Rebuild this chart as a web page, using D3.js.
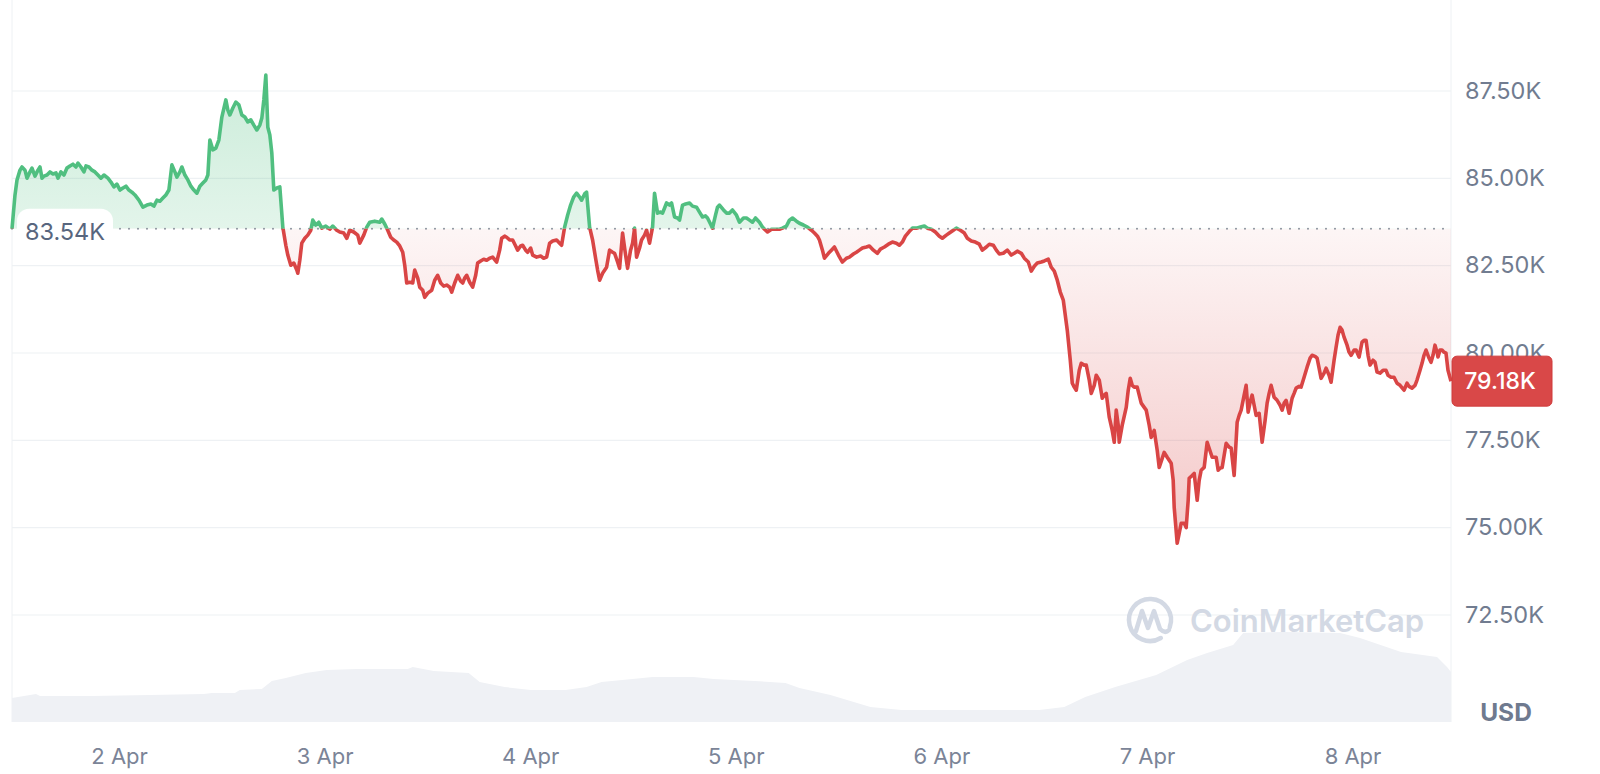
<!DOCTYPE html>
<html><head><meta charset="utf-8">
<script src="https://cdn.jsdelivr.net/npm/d3@7"></script>
<style>
html,body{margin:0;padding:0;background:#fff;}
svg{display:block;font-family:Inter,"Noto Sans",sans-serif;}
</style></head><body>
<svg id="chart" width="1600" height="774"></svg>
<script>
// ---------- data ----------
const startTime = new Date(2025, 3, 1, 11, 30);   // left edge of the 7-day window
const spanMinutes = 7 * 24 * 60;
const basePrice = 83.54;   // K USD, opening price (dotted line)
const lastPrice = 79.18;   // K USD, current price
const priceTicks = [72.5, 75, 77.5, 80, 82.5, 85, 87.5];
const currencyLabel = "USD";
const watermarkText = "CoinMarketCap";

// [minutes since start, price in K USD]
const pricePoints = [
[0,83.54],[21,84.51],[35,84.94],[56,85.22],[70,85.31],[91,85.22],[105,84.99],[126,85.17],[140,85.28],[161,85.05],[182,85.22],[196,85.31],[210,84.99],[224,85.05],[245,85.08],[266,85.17],[287,85.11],[308,85.14],[322,84.99],[343,85.17],[364,85.08],[385,85.28],[406,85.34],[427,85.39],[448,85.31],[462,85.42],[483,85.31],[504,85.17],[518,85.34],[539,85.31],[560,85.22],[581,85.17],[602,85.08],[623,84.99],[644,85.08],[672,84.99],[693,84.88],[714,84.74],[735,84.82],[756,84.65],[777,84.71],[798,84.76],[819,84.65],[840,84.59],[861,84.51],[889,84.36],[917,84.16],[945,84.22],[973,84.25],[994,84.19],[1015,84.36],[1036,84.33],[1057,84.42],[1078,84.51],[1099,84.65],[1120,85.37],[1141,85.17],[1155,85.02],[1176,85.17],[1190,85.31],[1211,85.08],[1232,84.94],[1253,84.76],[1274,84.65],[1295,84.56],[1316,84.76],[1337,84.85],[1358,84.94],[1372,85.08],[1386,86.08],[1407,85.80],[1428,85.85],[1449,86.08],[1470,86.74],[1498,87.23],[1512,86.94],[1526,86.80],[1547,87.00],[1568,87.17],[1589,87.09],[1610,86.80],[1631,86.74],[1652,86.60],[1673,86.66],[1694,86.51],[1715,86.37],[1736,86.51],[1750,86.71],[1764,87.23],[1778,87.94],[1792,86.45],[1806,86.23],[1820,85.71],[1834,84.65],[1855,84.71],[1876,84.74],[1897,83.59],[1918,83.07],[1932,82.79],[1953,82.50],[1974,82.56],[1995,82.36],[2002,82.27],[2016,82.64],[2030,83.13],[2051,83.27],[2072,83.36],[2093,83.50],[2107,83.79],[2128,83.65],[2149,83.73],[2170,83.56],[2198,83.62],[2226,83.53],[2247,83.62],[2275,83.50],[2296,83.45],[2324,83.42],[2345,83.27],[2366,83.50],[2394,83.45],[2422,83.36],
[2436,83.13],[2464,83.36],[2485,83.59],[2506,83.73],[2541,83.76],[2576,83.73],[2590,83.82],[2611,83.68],[2632,83.50],[2653,83.30],[2674,83.22],[2695,83.16],[2716,83.05],[2737,82.87],[2751,82.50],[2765,81.99],[2786,82.01],[2807,81.99],[2821,82.36],[2842,82.13],[2856,81.87],[2877,81.78],[2891,81.58],[2912,81.70],[2940,81.78],[2961,82.07],[2982,82.21],[3003,81.99],[3024,81.90],[3045,81.93],[3066,81.87],[3080,81.73],[3101,81.99],[3122,82.21],[3143,82.04],[3157,81.99],[3171,82.13],[3185,82.21],[3206,82.01],[3227,81.87],[3248,82.21],[3262,82.56],[3283,82.62],[3304,82.67],[3325,82.64],[3346,82.70],[3367,82.73],[3395,82.59],[3416,82.93],[3430,83.27],[3451,83.33],[3465,83.30],[3486,83.22],[3507,83.22],[3528,83.05],[3542,82.93],[3563,83.05],[3577,83.07],[3598,82.93],[3612,82.87],[3633,82.99],[3647,82.79],[3675,82.73],[3703,82.76],[3724,82.70],[3745,82.73],[3766,83.13],[3787,83.19],[3815,83.22],[3836,83.13],[3850,83.07],[3871,83.59],[3892,83.93],[3913,84.22],[3934,84.45],[3955,84.56],[3976,84.45],[3990,84.36],[4011,84.54],[4025,84.59],[4046,83.59],[4067,83.22],[4088,82.70],[4102,82.36],[4116,82.07],[4137,82.27],[4165,82.44],[4186,82.93],[4207,82.87],[4221,82.84],[4242,82.59],[4256,82.41],[4277,83.42],[4298,82.79],[4312,82.41],[4333,82.93],[4347,83.13],[4361,83.56],[4375,82.73],[4396,82.99],[4410,83.22],[4431,83.36],[4445,83.50],[4466,83.13],[4487,83.59],[4501,84.56],[4522,83.99],[4543,84.02],[4557,83.99],[4585,84.28],[4606,84.22],[4620,84.28],[4641,83.88],[4662,83.85],[4676,83.79],[4697,84.22],[4718,84.25],[4746,84.28],[4767,84.19],[4795,84.16],[4816,84.02],[4837,83.88],[4858,83.91],[4872,83.85],[4893,83.68],[4907,83.56],[4928,83.93],[4942,84.16],[4956,84.22],
[4984,84.08],[5005,83.99],[5026,83.99],[5047,84.08],[5075,83.93],[5096,83.73],[5124,83.85],[5145,83.85],[5166,83.79],[5187,83.73],[5208,83.85],[5236,83.73],[5257,83.59],[5271,83.53],[5292,83.45],[5320,83.53],[5348,83.53],[5376,83.53],[5397,83.56],[5425,83.62],[5446,83.79],[5467,83.85],[5495,83.76],[5516,83.70],[5544,83.65],[5572,83.59],[5600,83.50],[5621,83.42],[5642,83.33],[5656,83.22],[5677,82.93],[5691,82.70],[5719,82.84],[5740,82.93],[5761,83.02],[5789,82.79],[5817,82.59],[5845,82.70],[5866,82.73],[5894,82.82],[5915,82.87],[5936,82.93],[5957,82.99],[5985,83.02],[6006,83.05],[6034,82.93],[6062,82.84],[6083,82.96],[6111,83.02],[6139,83.10],[6167,83.16],[6195,83.13],[6216,83.07],[6237,83.16],[6258,83.33],[6286,83.47],[6307,83.56],[6335,83.56],[6363,83.59],[6391,83.62],[6412,83.56],[6440,83.53],[6468,83.45],[6496,83.33],[6517,83.27],[6545,83.36],[6566,83.42],[6594,83.50],[6615,83.56],[6643,83.50],[6671,83.42],[6692,83.27],[6720,83.19],[6748,83.16],[6776,83.10],[6797,82.93],[6825,83.02],[6846,83.10],[6874,83.07],[6895,82.93],[6916,82.82],[6944,82.84],[6972,82.93],[7000,82.79],[7021,82.84],[7042,82.90],[7070,82.84],[7091,82.70],[7119,82.59],[7140,82.33],[7161,82.47],[7182,82.56],[7210,82.59],[7231,82.62],[7259,82.67],[7280,82.44],[7301,82.33],[7322,82.07],[7343,81.73],[7364,81.50],[7392,80.64],
[7413,79.78],[7427,79.12],[7441,79.01],[7455,78.92],[7476,79.49],[7490,79.69],[7511,79.64],[7525,79.64],[7546,79.21],[7560,78.83],[7581,79.06],[7595,79.35],[7616,79.21],[7637,78.69],[7651,78.78],[7665,78.83],[7686,78.15],[7707,77.77],[7721,77.43],[7735,78.35],[7749,77.92],[7756,77.43],[7777,77.92],[7805,78.43],[7819,78.92],[7833,79.26],[7847,79.06],[7861,79.01],[7882,79.01],[7896,78.78],[7910,78.55],[7931,78.43],[7945,78.35],[7966,77.92],[7980,77.57],[8001,77.77],[8022,77.20],[8036,76.71],[8057,76.97],[8071,77.14],[8092,77.00],[8120,76.83],[8134,76.34],[8141,75.57],[8162,74.54],[8176,74.82],[8190,75.11],[8211,75.11],[8225,74.99],[8239,75.77],[8246,76.40],[8267,76.48],[8281,76.54],[8302,75.77],[8316,76.34],[8330,76.63],[8351,76.71],[8372,77.43],[8386,77.26],[8407,77.00],[8435,77.00],[8449,76.63],[8463,76.69],[8477,76.71],[8491,77.06],[8505,77.40],[8526,77.29],[8540,77.26],[8561,76.48],[8582,78.00],[8596,78.20],[8610,78.35],[8631,78.78],[8645,79.06],[8659,78.29],[8673,78.58],[8687,78.78],[8701,78.49],[8715,78.20],[8736,78.26],[8757,77.43],[8778,78.06],[8792,78.55],[8806,78.83],[8820,79.06],[8841,78.72],[8862,78.63],[8883,78.49],[8897,78.35],[8911,78.55],[8925,78.63],[8946,78.26],[8967,78.69],[8981,78.83],[8995,78.98],[9016,79.03],[9030,79.01],[9051,79.29],[9072,79.58],[9093,79.84],[9107,79.92],[9128,79.89],[9142,79.84],[9156,79.55],[9170,79.26],[9191,79.41],[9205,79.55],[9226,79.35],[9240,79.15],[9261,79.78],[9275,80.15],[9289,80.50],[9303,80.72],[9317,80.64],[9331,80.44],[9352,80.21],[9366,80.01],[9380,79.92],[9401,80.07],[9415,80.07],[9436,79.87],[9457,80.30],[9471,80.35],[9485,80.35],[9499,79.92],[9513,79.64],[9534,79.78],[9548,79.72],[9562,79.44],[9583,79.41],[9604,79.49],[9625,79.49],[9639,79.35],[9660,79.29],[9681,79.29],[9702,79.12],[9723,79.06],[9751,78.92],[9772,79.12],[9786,79.03],[9807,78.98],[9828,79.06],[9842,79.21],[9863,79.49],[9877,79.69],[9891,79.92],[9905,80.07],[9926,79.84],[9940,79.72],[9954,79.92],[9968,80.21],[9982,80.01],[9989,79.87],[10003,80.07],[10017,80.07],[10031,80.01],[10045,79.98],[10059,79.49],[10080,79.18]
];

// rolling 24h volume, [minutes since start, billions USD]
const volumePoints = [
[0,24],[168,28],[196,26],[560,26],[966,27],[1344,28],[1400,29],[1561,29],[1596,32],[1750,33],[1820,41],[1918,44],[2058,49],[2205,52],[2415,53],[2772,53],[2807,55],[2954,51],[3199,49],[3276,40],[3451,35],[3633,32],[3878,32],[4025,35],[4130,40],[4347,43],[4487,45],[4774,45],[4914,43],[5201,41],[5418,39],[5516,34],[5733,27],[6013,15],[6230,12],[7196,12],[7371,15],[7518,25],[7728,35],[8015,47],[8232,62],[8372,69],[8554,77],[8624,89],[8911,90],[9303,89],[9443,84],[9730,70],[9982,65],[10052,55],[10080,50]
];

// ---------- layout ----------
const plotLeft = 12, plotRight = 1451, plotBottom = 722;
const green = "#50bf80", red = "#d94545";
const toDate = m => new Date(startTime.getTime() + m * 60000);
const endTime = toDate(spanMinutes);
const prices = pricePoints.map(([m, v]) => ({t: toDate(m), v}));
const volumes = volumePoints.map(([m, v]) => ({t: toDate(m), v}));

const svg = d3.select("#chart");
const x = d3.scaleTime().domain([startTime, endTime]).range([plotLeft, plotRight]);
const y = d3.scaleLinear().domain([72.5, 87.5]).range([614.5, 90.5]);
const yVol = d3.scaleLinear().domain([0, 180]).range([plotBottom, plotBottom - 180]);
const yBase = y(basePrice);

const defs = svg.append("defs");
const gG = defs.append("linearGradient").attr("id", "gGreen")
  .attr("gradientUnits", "userSpaceOnUse").attr("x1", 0).attr("x2", 0)
  .attr("y1", yBase).attr("y2", y(88));
gG.append("stop").attr("offset", 0).attr("stop-color", green).attr("stop-opacity", 0.16);
gG.append("stop").attr("offset", 1).attr("stop-color", green).attr("stop-opacity", 0.3);
const gR = defs.append("linearGradient").attr("id", "gRed")
  .attr("gradientUnits", "userSpaceOnUse").attr("x1", 0).attr("x2", 0)
  .attr("y1", yBase).attr("y2", y(74.5));
gR.append("stop").attr("offset", 0).attr("stop-color", red).attr("stop-opacity", 0.05);
gR.append("stop").attr("offset", 1).attr("stop-color", red).attr("stop-opacity", 0.3);
defs.append("clipPath").attr("id", "clipAbove").append("rect")
  .attr("x", 0).attr("y", 0).attr("width", plotRight + 2).attr("height", yBase);
defs.append("clipPath").attr("id", "clipBelow").append("rect")
  .attr("x", 0).attr("y", yBase).attr("width", plotRight + 2).attr("height", plotBottom - yBase);

// frame
svg.append("line").attr("x1", plotLeft).attr("x2", plotLeft).attr("y1", 0).attr("y2", plotBottom)
  .attr("stroke", "#eef1f4").attr("stroke-width", 1);
svg.append("line").attr("x1", plotRight).attr("x2", plotRight).attr("y1", 0).attr("y2", plotBottom)
  .attr("stroke", "#eef1f4").attr("stroke-width", 1);

// y axis + gridlines
const yAxis = svg.append("g").attr("transform", `translate(${plotRight},0)`)
  .call(d3.axisRight(y).tickValues(priceTicks).tickSize(-(plotRight - plotLeft)).tickPadding(14)
    .tickFormat(d => d.toFixed(2) + "K"));
yAxis.select(".domain").remove();
yAxis.selectAll(".tick line").attr("stroke", "#eef1f4").attr("stroke-width", 1.2);
yAxis.selectAll(".tick text").attr("fill", "#717c90").attr("font-size", 23.5)
  .attr("font-family", "Inter, sans-serif");

// volume
svg.append("path").datum(volumes)
  .attr("d", d3.area().x(d => x(d.t)).y0(plotBottom).y1(d => yVol(d.v)))
  .attr("fill", "#eff1f5");

// watermark
const wm = svg.append("g").attr("fill", "none").attr("stroke", "#d3d9e4").attr("stroke-width", 4.5)
  .attr("stroke-linecap", "round").attr("stroke-linejoin", "round");
wm.append("path").attr("d", d3.arc()({innerRadius: 21, outerRadius: 21, startAngle: 2.6, endAngle: 2.6 + 5.6}))
  .attr("transform", "translate(1150,620)");
wm.append("path").attr("d", "M1136,631 L1142,611 L1148,628 L1154,611 L1160,629 Q1165,634 1169,630");
svg.append("text").attr("x", 1190).attr("y", 632).text(watermarkText)
  .attr("font-size", 31).attr("font-weight", 600).attr("fill", "#d3d9e4");

// price areas
const area = d3.area().x(d => x(d.t)).y0(yBase).y1(d => y(d.v));
svg.append("path").datum(prices).attr("d", area).attr("fill", "url(#gGreen)").attr("clip-path", "url(#clipAbove)");
svg.append("path").datum(prices).attr("d", area).attr("fill", "url(#gRed)").attr("clip-path", "url(#clipBelow)");

// baseline dotted
svg.append("line").attr("x1", plotLeft).attr("x2", plotRight).attr("y1", yBase).attr("y2", yBase)
  .attr("stroke", "#8a919c").attr("stroke-width", 2).attr("stroke-linecap", "round")
  .attr("stroke-dasharray", "0 9");

// price lines
const line = d3.line().x(d => x(d.t)).y(d => y(d.v));
svg.append("path").datum(prices).attr("d", line).attr("fill", "none").attr("stroke", green)
  .attr("stroke-width", 3.6).attr("stroke-linejoin", "round").attr("clip-path", "url(#clipAbove)");
svg.append("path").datum(prices).attr("d", line).attr("fill", "none").attr("stroke", red)
  .attr("stroke-width", 3.6).attr("stroke-linejoin", "round").attr("clip-path", "url(#clipBelow)");

// base label
svg.append("rect").attr("x", 17).attr("y", yBase - 20).attr("width", 96).attr("height", 46).attr("rx", 12)
  .attr("fill", "#fff");
svg.append("text").attr("x", 65).attr("y", yBase + 3).attr("dy", "0.35em").attr("text-anchor", "middle")
  .attr("font-size", 23.5).attr("fill", "#58667e").text(basePrice.toFixed(2) + "K");

// current price label
const yl = y(lastPrice);
svg.append("rect").attr("x", 1452).attr("y", yl - 25).attr("width", 100).attr("height", 50).attr("rx", 5)
  .attr("fill", "#d94848").attr("stroke", "#cf3b3b").attr("stroke-width", 1);
svg.append("text").attr("x", 1500).attr("y", yl).attr("dy", "0.35em").attr("text-anchor", "middle")
  .attr("font-size", 23).attr("font-weight", 500).attr("fill", "#fff").text(lastPrice.toFixed(2) + "K");

// x axis
const xAxis = svg.append("g").attr("transform", "translate(0,756)")
  .call(d3.axisBottom(x).tickValues(d3.timeDay.range(d3.timeDay.ceil(startTime), endTime))
    .tickSize(0).tickPadding(0).tickFormat(d3.timeFormat("%-d %b")));
xAxis.select(".domain").remove();
xAxis.selectAll(".tick text").attr("dy", "0.35em").attr("y", 0).attr("fill", "#7b8497")
  .attr("font-size", 22).attr("font-family", "Inter, sans-serif");

// currency label
svg.append("text").attr("x", 1506).attr("y", 712).attr("dy", "0.35em").attr("text-anchor", "middle")
  .attr("font-size", 24.5).attr("font-weight", 700).attr("fill", "#6f7a8f").text(currencyLabel);
</script>
</body></html>
